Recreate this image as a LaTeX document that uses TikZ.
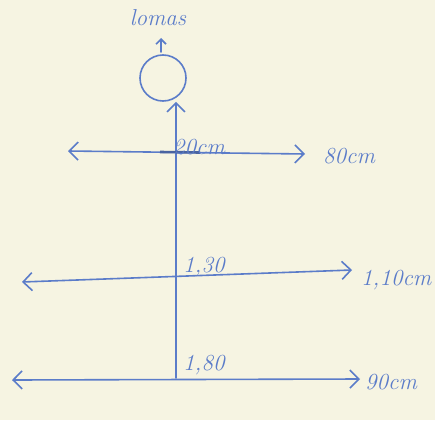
\documentclass[tikz,border=0pt]{standalone}
\usepackage{tikz}
\usetikzlibrary{arrows.meta,calc,positioning}
\definecolor{paper}{HTML}{F6F4E2}
\definecolor{ink}{HTML}{5B7CC9}
\begin{document}
\begin{tikzpicture}[x=1pt,y=-1pt,>={Straight Barb[length=9pt,width=18pt]},
  pen/.style={ink,line width=1.6pt,line cap=round},
  lbl/.style={ink,font=\fontsize{23}{25}\selectfont\itshape,inner sep=1pt}]
  \fill[paper] (0,0) rectangle (435,420);
  \useasboundingbox (0,0) rectangle (435,420);
  % trunk and top
  \coordinate (base) at (176,378);
  \node[pen,draw,circle,minimum size=46pt,inner sep=0pt] (head) at (163,78) {};
  \draw[pen,->] (base) -- (head.south -| base);
  \node[lbl] (top) at (158,18) {lomas};
  \coordinate (up0) at (161,52);
  \draw[pen,->,>={Straight Barb[length=5pt,width=10pt]}] (up0) -- ++(0,-14);
  % crossbars
  \coordinate (l1) at (68,151);  \coordinate (r1) at (305,154);
  \coordinate (l2) at (22,282);  \coordinate (r2) at (352,270);
  \coordinate (l3) at (12,380);  \coordinate (r3) at (360,379);
  \foreach \i in {1,2,3}{\draw[pen,<->] (l\i) -- (r\i);}
  \draw[ink!80!black,line width=2.6pt] (160,152) -- (200,152.5);
  % labels
  \node[lbl,anchor=south west] (h1) at (172,156) {20cm};
  \node[lbl,anchor=west] (w1) at (322,156) {80cm};
  \node[lbl,anchor=south west] (h2) at (182,278) {1,30};
  \node[lbl,anchor=west] (w2) at (360,280) {1,10cm};
  \node[lbl,anchor=south west] (h3) at (182,376) {1,80};
  \node[lbl,anchor=west] (w3) at (364,382) {90cm};
\end{tikzpicture}
\end{document}
